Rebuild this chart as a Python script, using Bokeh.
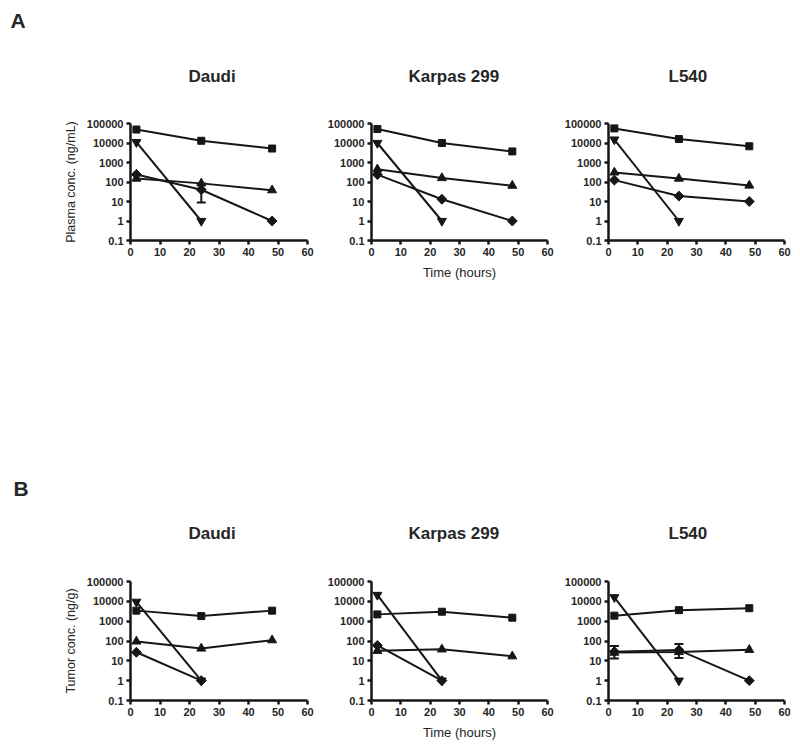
import math
from bokeh.plotting import figure
from bokeh.layouts import row, column
from bokeh.models import (Range1d, FixedTicker, PrintfTickFormatter, Title,
                          Whisker, ColumnDataSource)
from bokeh.embed import file_html
from bokeh.resources import INLINE

# ---------------- data ----------------
TIME = [2, 24, 48]
TIME_SHORT = [2, 24]
X_TICKS = [0, 10, 20, 30, 40, 50, 60]
Y_TICKS = [0.1, 1, 10, 100, 1000, 10000, 100000]
CELL_LINES = ["Daudi", "Karpas 299", "L540"]

# Panel A: plasma concentration (ng/mL)
plasma_daudi_square = [49000, 13000, 5200]
plasma_daudi_invtri = [11000, 1]
plasma_daudi_triangle = [150, 85, 38]
plasma_daudi_diamond = [245, 40, 1]
plasma_daudi_err_time = [24]
plasma_daudi_err_low = [9]
plasma_daudi_err_high = [85]

plasma_karpas_square = [52000, 10000, 3700]
plasma_karpas_invtri = [10000, 1]
plasma_karpas_triangle = [450, 160, 65]
plasma_karpas_diamond = [240, 13, 1]

plasma_l540_square = [56000, 16000, 6800]
plasma_l540_invtri = [15000, 1]
plasma_l540_triangle = [310, 150, 66]
plasma_l540_diamond = [125, 19, 10]

# Panel B: tumor concentration (ng/g)
tumor_daudi_square = [3400, 1800, 3400]
tumor_daudi_invtri = [9500, 1]
tumor_daudi_triangle = [95, 42, 110]
tumor_daudi_diamond = [27, 1]

tumor_karpas_square = [2200, 3000, 1500]
tumor_karpas_invtri = [21000, 1]
tumor_karpas_triangle = [32, 38, 17]
tumor_karpas_diamond = [60, 1]

tumor_l540_square = [1900, 3600, 4500]
tumor_l540_invtri = [16000, 1]
tumor_l540_triangle = [26, 28, 36]
tumor_l540_diamond = [29, 35, 1]
tumor_l540_err_time = [2, 24]
tumor_l540_err_low = [13, 14]
tumor_l540_err_high = [56, 70]

# ---------------- styling ----------------
FONT = "Liberation Sans"
INK = "#161616"
TXT = "#262626"


def make_panel(title, square, invtri, triangle, diamond, diamond_time,
               width, left, right, top, frame_h, bottom,
               spacer_standoff, title_standoff, title_offset,
               err=None, ylabel=None, xlabel=None, letter=None, letter_offset=0):
    p = figure(width=width, height=top + frame_h + bottom,
               x_range=Range1d(0, 60), y_range=Range1d(0.1, 100000),
               y_axis_type="log", output_backend="svg", toolbar_location=None,
               min_border_left=left, min_border_right=right,
               min_border_top=top, min_border_bottom=bottom, title=None)
    p.outline_line_color = None
    p.grid.visible = False
    p.background_fill_color = "white"
    p.border_fill_color = "white"

    for ax in (p.xaxis[0], p.yaxis[0]):
        ax.axis_line_width = 2.5
        ax.axis_line_color = INK
        ax.major_tick_line_width = 2.5
        ax.major_tick_line_color = INK
        ax.major_tick_out = 4
        ax.major_tick_in = 0
        ax.minor_tick_line_color = None
        ax.major_label_text_font = FONT
        ax.major_label_text_font_style = "bold"
        ax.major_label_text_font_size = "11px"
        ax.major_label_text_color = TXT
        ax.major_label_standoff = 3
        ax.axis_label_text_font = FONT
        ax.axis_label_text_font_style = "normal"
        ax.axis_label_text_color = TXT
        ax.axis_label_standoff = 6
    p.xaxis.ticker = FixedTicker(ticks=X_TICKS)
    p.yaxis.ticker = FixedTicker(ticks=Y_TICKS)
    p.yaxis.formatter = PrintfTickFormatter(format="%g")
    if ylabel:
        p.yaxis.axis_label = ylabel
        p.yaxis.axis_label_text_font_size = "12.5px"
    if xlabel:
        p.xaxis.axis_label = xlabel
        p.xaxis.axis_label_text_font_size = "13px"

    lw = 2
    p.line(TIME, square, line_width=lw, line_color=INK)
    p.scatter(TIME, square, marker="square", size=7, color=INK)
    p.line(TIME_SHORT, invtri, line_width=lw, line_color=INK)
    p.scatter(TIME_SHORT, invtri, marker="inverted_triangle", size=9, color=INK)
    p.line(TIME, triangle, line_width=lw, line_color=INK)
    p.scatter(TIME, triangle, marker="triangle", size=9, color=INK)
    p.line(diamond_time, diamond, line_width=lw, line_color=INK)
    p.scatter(diamond_time, diamond, marker="square", angle=math.pi / 4,
              size=7, color=INK)

    if err is not None:
        src = ColumnDataSource(dict(base=err[0], lower=err[1], upper=err[2]))
        w = Whisker(source=src, base="base", lower="lower", upper="upper",
                    dimension="height", line_width=2, line_color=INK)
        for head in (w.upper_head, w.lower_head):
            head.size = 9
            head.line_width = 2
            head.line_color = INK
        p.add_layout(w)

    # invisible spacer between frame and the panel title
    p.add_layout(Title(text=" ", text_font_size="1px", standoff=spacer_standoff), "above")
    p.add_layout(Title(text=title, align="left", offset=title_offset, text_font=FONT,
                       text_font_style="bold", text_font_size="17px", text_color=TXT,
                       standoff=title_standoff), "above")
    if letter:
        p.add_layout(Title(text=letter, align="left", offset=letter_offset, text_font=FONT,
                           text_font_style="bold", text_font_size="21px",
                           text_color=TXT, standoff=0), "above")
    return p


# widths / borders per column
COLS = [dict(width=323, left=130, right=16, title_offset=58),
        dict(width=237, left=48, right=13, title_offset=37),
        dict(width=236, left=48, right=12, title_offset=60)]

A_TOP, A_FRAME, A_BOT = 123, 117, 210
B_TOP, B_FRAME, B_BOT = 131, 119, 45

a_data = [
    (plasma_daudi_square, plasma_daudi_invtri, plasma_daudi_triangle, plasma_daudi_diamond, TIME,
     (plasma_daudi_err_time, plasma_daudi_err_low, plasma_daudi_err_high)),
    (plasma_karpas_square, plasma_karpas_invtri, plasma_karpas_triangle, plasma_karpas_diamond, TIME, None),
    (plasma_l540_square, plasma_l540_invtri, plasma_l540_triangle, plasma_l540_diamond, TIME, None),
]
b_data = [
    (tumor_daudi_square, tumor_daudi_invtri, tumor_daudi_triangle, tumor_daudi_diamond, TIME_SHORT, None),
    (tumor_karpas_square, tumor_karpas_invtri, tumor_karpas_triangle, tumor_karpas_diamond, TIME_SHORT, None),
    (tumor_l540_square, tumor_l540_invtri, tumor_l540_triangle, tumor_l540_diamond, TIME,
     (tumor_l540_err_time, tumor_l540_err_low, tumor_l540_err_high)),
]

row_a = []
for i, (sq, it, tr, dm, dt, err) in enumerate(a_data):
    c = COLS[i]
    row_a.append(make_panel(CELL_LINES[i], sq, it, tr, dm, dt, c["width"], c["left"], c["right"],
                            A_TOP, A_FRAME, A_BOT, 1.5, 66, c["title_offset"], err=err,
                            ylabel="Plasma conc. (ng/mL)" if i == 0 else None,
                            xlabel="Time (hours)" if i == 1 else None,
                            letter="A" if i == 0 else None, letter_offset=-120))
row_b = []
for i, (sq, it, tr, dm, dt, err) in enumerate(b_data):
    c = COLS[i]
    row_b.append(make_panel(CELL_LINES[i], sq, it, tr, dm, dt, c["width"], c["left"], c["right"],
                            B_TOP, B_FRAME, B_BOT, 13.5, 44, c["title_offset"], err=err,
                            ylabel="Tumor conc. (ng/g)" if i == 0 else None,
                            xlabel="Time (hours)" if i == 1 else None,
                            letter="B" if i == 0 else None, letter_offset=-117))

layout = column(row(*row_a, spacing=0), row(*row_b, spacing=0), spacing=0)

with open("out.html", "w") as f:
    f.write(file_html(layout, INLINE))
